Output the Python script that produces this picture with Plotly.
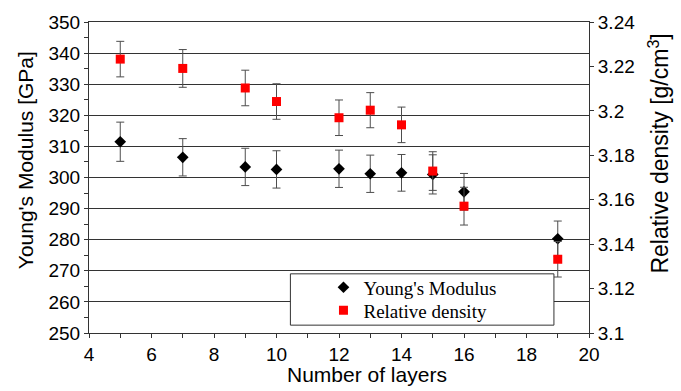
import plotly.graph_objects as go

# Number of layers in the laminate
layers = [5, 7, 9, 10, 12, 13, 14, 15, 16, 19]

# Young's modulus [GPa] and its standard deviation
modulus = [311.5, 306.5, 303.4, 302.6, 302.8, 301.2, 301.5, 301.0, 295.4, 280.3]
modulus_err = [6.3, 6.0, 6.0, 6.0, 6.0, 6.0, 5.9, 6.3, 5.9, 5.7]

# Relative density [g/cm3] and its standard deviation
density = [3.2233, 3.2191, 3.2103, 3.2042, 3.1969, 3.2003, 3.1937, 3.1729, 3.1571, 3.1332]
density_err = [0.0080, 0.0085, 0.0080, 0.0080, 0.0080, 0.0079, 0.0080, 0.0087, 0.0085, 0.0080]

# Axis ticks
x_ticks = [4, 6, 8, 10, 12, 14, 16, 18, 20]
left_ticks = [250, 260, 270, 280, 290, 300, 310, 320, 330, 340, 350]
right_ticks = [3.1, 3.12, 3.14, 3.16, 3.18, 3.2, 3.22, 3.24]
right_labels = ["3.1", "3.12", "3.14", "3.16", "3.18", "3.2", "3.22", "3.24"]

LINE = "#333333"
SANS = "Liberation Sans, Arial, sans-serif"
SERIF = "Liberation Serif, Times New Roman, serif"

# plot area in pixels: x 89..588, y 16..333
PX_L, PX_W, PX_B, PX_H = 89, 499, 333, 317


def px_x(px):
    return (px - PX_L) / PX_W


def px_y(py):
    return (PX_B - py) / PX_H


fig = go.Figure()

fig.add_trace(go.Scatter(
    x=layers, y=density, name="Relative density", yaxis="y2", mode="markers",
    legend="legend2",
    marker=dict(symbol="square", size=9, color="#ff0000"),
    error_y=dict(type="data", array=density_err, color="#4d4d4d", thickness=1, width=4),
))
fig.add_trace(go.Scatter(
    x=layers, y=modulus, name="Young's Modulus", mode="markers",
    legend="legend",
    marker=dict(symbol="diamond", size=9, color="black"),
    error_y=dict(type="data", array=modulus_err, color="#4d4d4d", thickness=1, width=4),
))

tick_font = dict(family=SANS, size=19, color="black")
legend_style = dict(
    xanchor="left", yanchor="middle", bgcolor="rgba(0,0,0,0)", borderwidth=0,
    font=dict(family=SERIF, size=19, color="black"), itemwidth=30,
)

fig.update_layout(
    width=681, height=391,
    margin=dict(l=89, r=92, t=16, b=58),
    paper_bgcolor="white", plot_bgcolor="white",
    showlegend=True,
    legend=dict(x=px_x(323), y=px_y(286.5), **legend_style),
    legend2=dict(x=px_x(323), y=px_y(310), **legend_style),
    xaxis=dict(
        range=[4, 20], tickvals=x_ticks, ticks="outside", ticklen=4,
        tickcolor=LINE, tickfont=tick_font, showgrid=False, zeroline=False,
        showline=True, linecolor=LINE, linewidth=1, mirror=True,
        minor=dict(dtick=1, ticks="outside", ticklen=4, tickcolor=LINE, showgrid=False),
    ),
    xaxis2=dict(
        range=[4, 20], overlaying="x", anchor="y", side="bottom", dtick=1,
        ticks="inside", ticklen=4, tickcolor=LINE, showticklabels=False,
        showgrid=False, zeroline=False, showline=False,
    ),
    yaxis=dict(
        range=[250, 350], tickvals=left_ticks, ticks="outside", ticklen=4,
        tickcolor=LINE, tickfont=tick_font, showgrid=True, gridcolor=LINE,
        gridwidth=1, zeroline=False, showline=True, linecolor=LINE, linewidth=1,
        minor=dict(dtick=5, ticks="outside", ticklen=4, tickcolor=LINE, showgrid=False),
    ),
    yaxis3=dict(
        range=[250, 350], overlaying="y", side="left", anchor="x", dtick=5,
        ticks="inside", ticklen=4, tickcolor=LINE, showticklabels=False,
        showgrid=False, zeroline=False, showline=False,
    ),
    yaxis2=dict(
        range=[3.1, 3.24], overlaying="y", side="right", anchor="x",
        tickvals=right_ticks, ticktext=right_labels, ticks="outside", ticklen=4,
        tickcolor=LINE, tickfont=tick_font, showgrid=False, zeroline=False,
        showline=True, linecolor=LINE, linewidth=1,
    ),
    yaxis4=dict(
        range=[3.1, 3.24], overlaying="y", side="right", anchor="x",
        tickvals=right_ticks, ticks="inside", ticklen=4, tickcolor=LINE,
        showticklabels=False, showgrid=False, zeroline=False, showline=False,
    ),
)

# Legend frame
fig.add_shape(
    type="rect", xref="paper", yref="paper",
    x0=px_x(290), x1=px_x(553), y0=px_y(325), y1=px_y(272.7),
    line=dict(color=LINE, width=1), fillcolor="white", layer="above",
)

# Axis titles
fig.add_annotation(
    text="Number of layers", xref="paper", yref="paper",
    x=px_x(366), y=px_y(375), xanchor="center", yanchor="middle", showarrow=False,
    font=dict(family=SANS, size=21, color="black"),
)
fig.add_annotation(
    text="Young's Modulus [GPa]", xref="paper", yref="paper",
    x=px_x(25), y=px_y(157), xanchor="center", yanchor="middle", showarrow=False,
    textangle=-90, font=dict(family=SANS, size=21, color="black"),
)
fig.add_annotation(
    text="Relative density [g/cm<sup>3</sup>]", xref="paper", yref="paper",
    x=px_x(658), y=px_y(150), xanchor="center", yanchor="middle", showarrow=False,
    textangle=-90, font=dict(family=SANS, size=23, color="black"),
)

fig.write_html("out.html")
